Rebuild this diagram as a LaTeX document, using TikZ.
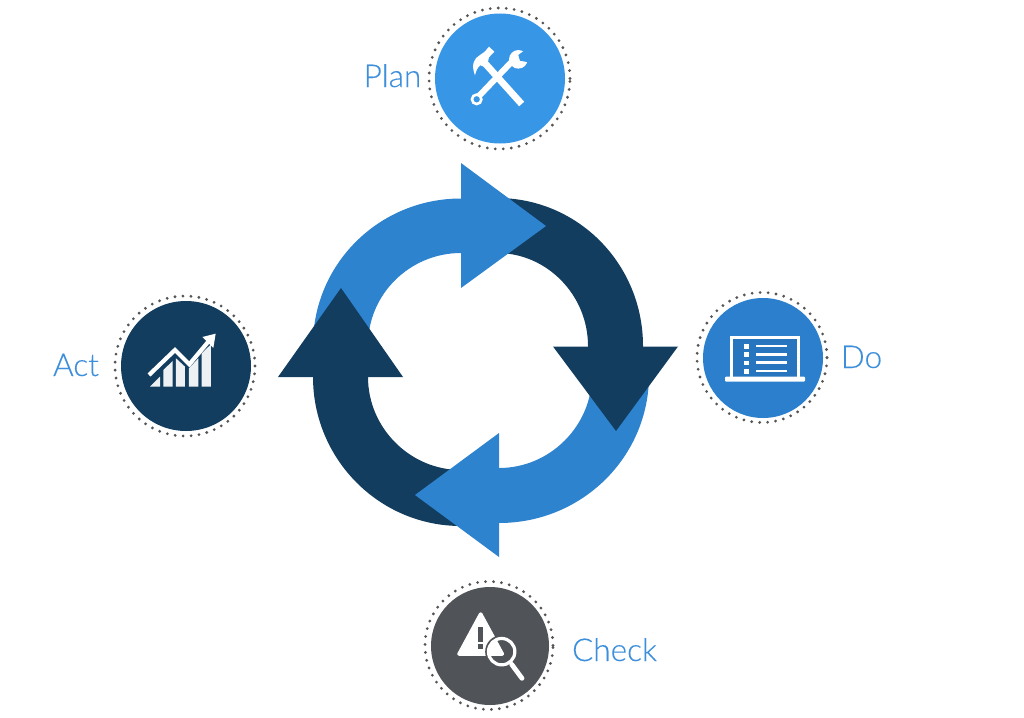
\documentclass[tikz,border=0pt]{standalone}
\usepackage{fontspec}
\newfontfamily\lblfont[FakeBold=0.25]{Lato Light}
\definecolor{lightb}{HTML}{2E83CE}
\definecolor{darkb}{HTML}{123D5F}
\definecolor{planb}{HTML}{3797E6}
\definecolor{dob}{HTML}{2B7FCC}
\definecolor{scrb}{HTML}{2775BE}
\definecolor{checkg}{HTML}{505459}
\definecolor{dotg}{HTML}{555555}
\definecolor{labelb}{HTML}{3D8FDB}
\tikzset{
  disc/.style={circle,inner sep=0pt,minimum size=#1},
  dotring/.style={circle,inner sep=0pt,minimum size=#1,draw=dotg,line width=3.1pt,line cap=round,dash pattern=on 0pt off 8pt},
  lbl/.style={text=labelb,font=\lblfont\fontsize{31.5}{32}\selectfont,inner sep=0pt,anchor=base},
}
\begin{document}
\begin{tikzpicture}[x=1pt,y=-1pt]
\useasboundingbox (0,0) rectangle (1024,717);
% ring bands
\fill[lightb] (463,198.5) -- (461,198.5) .. controls (379,198.5) and (313,264) .. (313,345) -- (368,345) .. controls (368,294) and (410,253) .. (461,253) -- (463,253) -- cycle;
\fill[darkb] (497,198) .. controls (578,198) and (643,264) .. (643,346) -- (643,349) -- (588,349) -- (588,346) .. controls (588,295) and (547,253) .. (497,253) -- cycle;
\fill[lightb] (649,375) .. controls (649,457) and (582,523) .. (499,523) -- (497,523) -- (497,468) -- (499,468) .. controls (550,468) and (592,426) .. (592,375) -- cycle;
\fill[darkb] (313,375) -- (313,377) .. controls (313,459) and (379,526) .. (461,526) -- (470,526) -- (470,470) -- (461,470) .. controls (410,470) and (368,428) .. (368,377) -- (368,375) -- cycle;
% heads
\fill[lightb] (461,163) -- (546,226) -- (461,288) -- cycle;
\fill[darkb] (553,346.5) -- (678,346.5) -- (616,431) -- cycle;
\fill[lightb] (499,433) -- (415,495) -- (499,557) -- cycle;
\fill[darkb] (278,377) -- (403,377) -- (341,288) -- cycle;
% discs
\node[disc=130pt,fill=planb] (plan) at (500,78.5) {};
\node[dotring=141pt] (planring) at (499.5,78.5) {};
\node[disc=120pt,fill=dob] (do) at (763,358) {};
\node[dotring=130pt] (doring) at (762,357.5) {};
\node[disc=118pt,fill=checkg] (check) at (490,646) {};
\node[dotring=128pt] (checkring) at (489,645.5) {};
\node[disc=130pt,fill=darkb] (act) at (186,366) {};
\node[dotring=140pt] (actring) at (185,366) {};
% labels
\node[lbl] (planlabel) at (392.5,87) {Plan};
\node[lbl] (dolabel) at (861.5,368) {Do};
\node[lbl] (checklabel) at (614.5,661) {Check};
\node[lbl] (actlabel) at (76,376) {Act};
% plan icon
\begin{scope}[shift={(465,40)},x=0.3333pt,y=-0.3333pt]
  \draw[white,line width=6.8pt] (170,192) -- (62,72);
  \fill[white] (30,106) .. controls (18,75) and (26,55) .. (45,45) .. controls (58,37) and (65,30) .. (72,20) -- (88,35) -- (72,52) .. controls (70,62) and (68,72) .. (62,82) -- (46,76) .. controls (38,82) and (33,92) .. (30,106) -- cycle;
  \draw[white,line width=6pt] (42,168) -- (150,55);
  \draw[white,line width=2.6pt] (35,178) circle[radius=4.7pt];
  \fill[white] (160,58) circle[radius=9.3pt];
  \fill[planb] (180,30) -- (160,45) -- (165,62) -- (196,68) -- (205,30) -- cycle;
\end{scope}
% do icon
\begin{scope}[shift={(720,330)},x=0.3333pt,y=-0.3333pt]
  \draw[white,fill=scrb,line width=3.2pt] (35,140) -- (35,22) -- (235,22) -- (235,140);
  \fill[white,rounded corners=1pt] (15,140) rectangle (255,155);
  \foreach \yy in {42,67,92,117} {
    \fill[white] (72,\yy) rectangle (86,\yy+14);
    \draw[white,line width=2.4pt] (108,\yy+6) -- (200,\yy+6);
  }
\end{scope}
% check icon
\begin{scope}[shift={(450,605)},x=0.3333pt,y=-0.3333pt]
  \fill[white,draw=white,line width=3.5pt,line join=round] (92,27) -- (27,147) -- (157,147) -- cycle;
  \fill[checkg] (84,65) rectangle (100,110);
  \fill[checkg] (84,118) rectangle (100,132);
  \draw[checkg,line width=2.2pt] (155,140) circle[radius=15.4pt];
  \draw[white,line width=3.2pt] (155,140) circle[radius=13.2pt];
  \draw[white,line width=4.8pt,line cap=round] (185,178) -- (216,220);
\end{scope}
% act icon
\begin{scope}[shift={(140,325)},x=0.3333pt,y=-0.3333pt]
  \fill[white!93!darkb] (30,185) -- (60,155) -- (60,185) -- cycle;
  \fill[white!93!darkb] (70,185) -- (70,135) -- (98,108) -- (98,185) -- cycle;
  \fill[white!93!darkb] (108,185) -- (108,100) -- (135,125) -- (135,185) -- cycle;
  \fill[white!93!darkb] (147,185) -- (147,130) -- (175,100) -- (175,185) -- cycle;
  \fill[white!93!darkb] (185,185) -- (185,85) -- (213,58) -- (213,185) -- cycle;
  \draw[white,line width=4.2pt,line join=miter] (27,150) -- (105,75) -- (148,118) -- (205,50);
  \fill[white] (227,26) -- (187,36) -- (220,69) -- cycle;
\end{scope}
\end{tikzpicture}
\end{document}
